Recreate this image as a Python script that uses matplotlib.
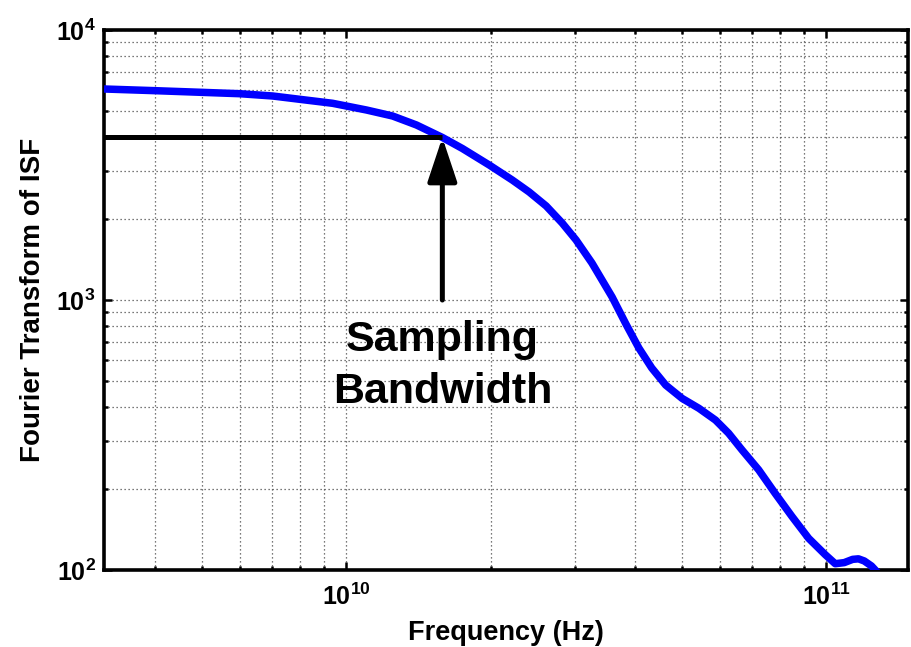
import matplotlib
matplotlib.use("Agg")
import matplotlib.pyplot as plt
from matplotlib.ticker import LogLocator, NullFormatter

# Data
freq_hz = [3.13e9, 3.995e9, 4.955e9, 5.998e9, 7.03e9, 8.00e9, 9.37e9,
           1.102e10, 1.249e10, 1.401e10, 1.586e10, 1.746e10, 1.986e10,
           2.218e10, 2.405e10, 2.61e10, 2.817e10, 3.012e10,
           3.25e10, 3.58e10, 3.825e10, 4.07e10, 4.33e10, 4.63e10, 5.01e10,
           5.43e10, 5.88e10, 6.26e10, 6.68e10, 7.23e10, 7.83e10, 8.48e10,
           9.19e10, 9.95e10, 1.044e11, 1.09e11, 1.135e11, 1.167e11,
           1.2e11, 1.242e11, 1.285e11]
isf_ft = [6047, 5961, 5880, 5809, 5696, 5538, 5352,
          5055, 4803, 4448, 4000, 3640, 3162,
          2782, 2512, 2229, 1929, 1668,
          1371, 1026, 815, 664, 560, 484, 432,
          397, 359, 321, 278, 235, 192, 158,
          131, 114, 105.5, 106.5, 109.5, 110,
          108, 103.5, 97]

bw_freq = 1.586e10
bw_level = 4000
arrow_tail = 1000
x_limits = (3.13e9, 1.48e11)
y_limits = (1e2, 1e4)
annotation = "Sampling\nBandwidth"
xlabel = "Frequency (Hz)"
ylabel = "Fourier Transform of ISF"

plt.rcParams['font.family'] = ['Liberation Sans', 'DejaVu Sans']
plt.rcParams['mathtext.fontset'] = 'custom'
plt.rcParams['mathtext.rm'] = 'Liberation Sans:bold'
plt.rcParams['mathtext.it'] = 'Liberation Sans:bold'
plt.rcParams['mathtext.bf'] = 'Liberation Sans:bold'

fig = plt.figure(figsize=(9.11, 6.47), dpi=100)
ax = fig.add_axes([104/911, 1 - 570/647, (908 - 104)/911, (570 - 30)/647])

ax.set_xscale('log')
ax.set_yscale('log')
ax.set_xlim(*x_limits)
ax.set_ylim(*y_limits)

ax.grid(True, which='both', linestyle=(0, (1, 2.2)), color='0.3', linewidth=0.9)
ax.set_axisbelow(True)

ax.plot(freq_hz, isf_ft, color=(0, 0, 1), linewidth=5.4, solid_capstyle='butt',
        solid_joinstyle='round', zorder=3)

ax.plot([x_limits[0], bw_freq], [bw_level, bw_level], color='k', linewidth=3.6,
        solid_capstyle='butt', zorder=4)
ax.annotate('', xy=(bw_freq, bw_level), xytext=(bw_freq, arrow_tail),
            arrowprops=dict(arrowstyle='-|>,head_length=1.35,head_width=0.45',
                            color='k', lw=3.6, shrinkA=0, shrinkB=0,
                            mutation_scale=20), zorder=4)

ax.text(bw_freq, 843, annotation, ha='center', va='top', fontsize=31,
        fontweight='bold', linespacing=1.38)

ax.xaxis.set_major_locator(LogLocator(base=10, numticks=10))
ax.xaxis.set_minor_locator(LogLocator(base=10, subs=range(2, 10), numticks=20))
ax.yaxis.set_major_locator(LogLocator(base=10, numticks=10))
ax.yaxis.set_minor_locator(LogLocator(base=10, subs=range(2, 10), numticks=20))
ax.xaxis.set_minor_formatter(NullFormatter())
ax.yaxis.set_minor_formatter(NullFormatter())

ax.tick_params(which='both', direction='in', top=True, right=True, width=1.8)
ax.tick_params(which='major', length=5.5, labelsize=18)
ax.tick_params(axis='x', which='major', pad=10)
ax.tick_params(axis='y', which='major', pad=6)
ax.tick_params(which='minor', length=2.8)
for lab in ax.get_xticklabels() + ax.get_yticklabels():
    lab.set_fontweight('bold')

for sp in ax.spines.values():
    sp.set_linewidth(2.6)

ax.set_xlabel(xlabel, fontsize=19.5, fontweight='bold', labelpad=7)
ax.set_ylabel(ylabel, fontsize=20, fontweight='bold', labelpad=7)

fig.savefig('out.png', dpi=100)
